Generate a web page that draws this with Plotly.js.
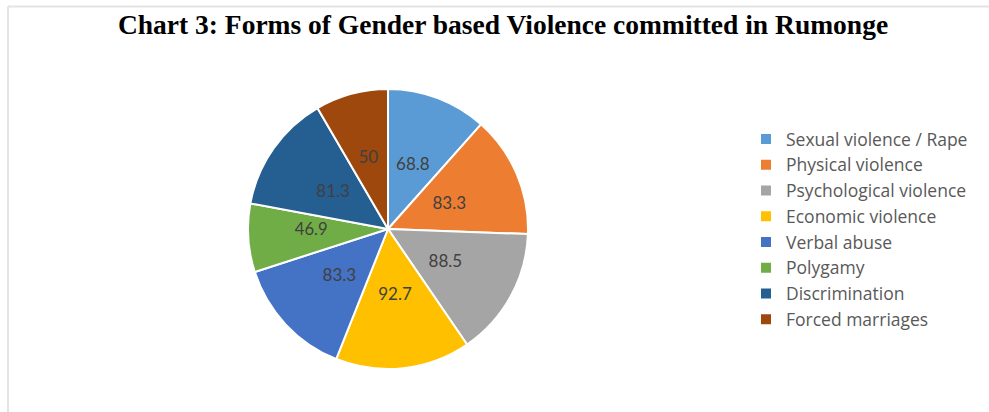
<!DOCTYPE html>
<html>
<head>
<meta charset="utf-8">
<script src="https://cdn.plot.ly/plotly-3.0.1.min.js"></script>
<style>
html,body{margin:0;padding:0;background:#fff;}
#chart{width:989px;height:412px;}
</style>
</head>
<body>
<div id="chart"></div>
<script>
const categories = [
  "Sexual violence / Rape",
  "Physical violence",
  "Psychological violence",
  "Economic violence",
  "Verbal abuse",
  "Polygamy",
  "Discrimination",
  "Forced marriages"
];
const values = [68.8, 83.3, 88.5, 92.7, 83.3, 46.9, 81.3, 50];
const colors = ["#5B9BD5", "#ED7D31", "#A5A5A5", "#FFC000", "#4472C4", "#70AD47", "#255E91", "#9E480E"];
const chartTitle = "Chart 3: Forms of Gender based Violence committed in Rumonge";

const W = 989, H = 412;
const cx = 388, cy = 229, r = 140, rText = 95;

function dom(rad) {
  return {x: [(cx - rad) / W, (cx + rad) / W], y: [1 - (cy + rad) / H, 1 - (cy - rad) / H]};
}

const pieTrace = {
  type: "pie",
  labels: categories,
  values: values,
  sort: false,
  direction: "clockwise",
  rotation: 0,
  marker: {colors: colors, line: {color: "#ffffff", width: 2}},
  textinfo: "none",
  hoverinfo: "label+value",
  domain: dom(r)
};

// transparent inner pie carrying the value labels (closer to the centre, as in the original)
const labelTrace = {
  type: "pie",
  labels: categories,
  values: values,
  sort: false,
  direction: "clockwise",
  rotation: 0,
  showlegend: false,
  marker: {colors: categories.map(() => "rgba(0,0,0,0)"), line: {width: 0}},
  textinfo: "value",
  textposition: "inside",
  insidetextorientation: "horizontal",
  insidetextfont: {family: "Lato, 'Open Sans', sans-serif", size: 17, color: "#404040"},
  hoverinfo: "skip",
  domain: dom(rText)
};

const layout = {
  width: W, height: H,
  margin: {l: 0, r: 0, t: 0, b: 0},
  paper_bgcolor: "#ffffff",
  showlegend: true,
  title: {
    text: "<b>" + chartTitle + "</b>",
    font: {family: "'Liberation Serif', 'Times New Roman', serif", size: 27.5, color: "#000000"},
    x: 503 / W, xanchor: "center",
    y: 1 - 24 / H, yanchor: "middle", xref: "paper", yref: "paper"
  },
  legend: {
    x: 746 / W, xanchor: "left",
    y: 1 - 121 / H, yanchor: "top",
    font: {family: "'Open Sans', sans-serif", size: 17.5, color: "#595959"},
    bgcolor: "rgba(0,0,0,0)"
  },
  shapes: [
    {type: "line", xref: "paper", yref: "paper", x0: 8 / W, x1: 8 / W, y0: 0, y1: 1 - 6.5 / H, line: {color: "#e4e4e4", width: 2}},
    {type: "line", xref: "paper", yref: "paper", x0: 8 / W, x1: 1, y0: 1 - 6.5 / H, y1: 1 - 6.5 / H, line: {color: "#e4e4e4", width: 2}}
  ]
};

Plotly.newPlot("chart", [pieTrace, labelTrace], layout, {displayModeBar: false, staticPlot: true});
</script>
</body>
</html>
